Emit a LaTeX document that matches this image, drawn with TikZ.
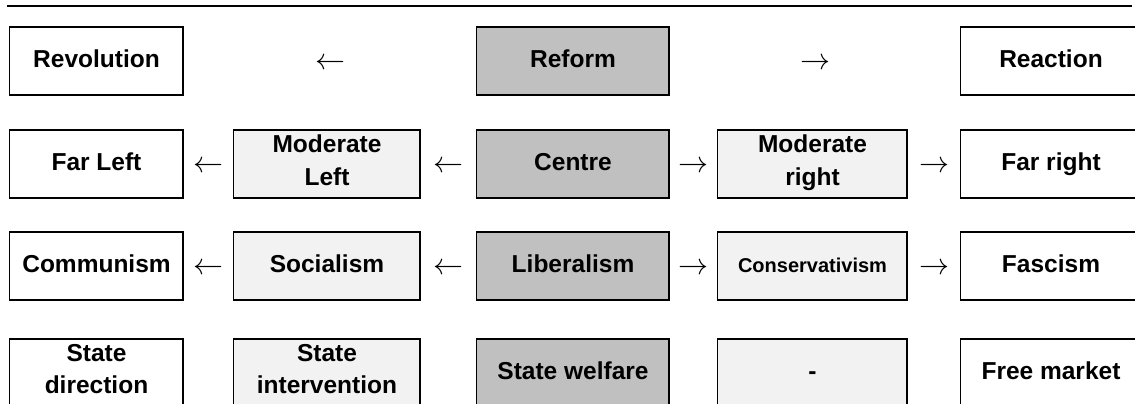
\documentclass[tikz,border=0pt]{standalone}
\usepackage{fontspec}
\setmainfont{Liberation Sans}
\usetikzlibrary{calc}
\definecolor{midgray}{HTML}{C0C0C0}
\definecolor{palegray}{HTML}{F2F2F2}
\newcommand\cellstrut{\rule[-8pt]{0pt}{29pt}}
\tikzset{
  cell/.style={rectangle, inner sep=0pt, minimum height=68pt, align=center,
    font=\fontsize{24.5}{32.5}\selectfont\bfseries, text=black,
    execute at begin node=\cellstrut, execute at end node=\cellstrut},
  whitecell/.style={cell, fill=white},
  lightcell/.style={cell, fill=palegray},
  darkcell/.style={cell, fill=midgray},
  edgeleft/.style={line width=1pt, line cap=rect},
  edgeright/.style={line width=1.5pt, line cap=rect},
  edgehoriz/.style={line width=2pt, line cap=rect},
  arrowglyph/.style={inner sep=0pt, yshift=-2.5pt},
  rule/.style={line width=1.5pt}
}
\newcommand\larr{\scalebox{3.0}{$\leftarrow$}}
\newcommand\rarr{\scalebox{3.0}{$\rightarrow$}}
\begin{document}
\begin{tikzpicture}[x=1pt,y=-1pt]
\useasboundingbox (0,0) rectangle (1135,404);
\clip (0,0) rectangle (1135,404);

\coordinate (rulestart) at (7,6);
\coordinate (ruleend) at (1132,6);
\draw[rule] (rulestart) -- (ruleend);

% row 1
\node[whitecell, minimum width=173pt] (rev) at (96.5,61) {Revolution};
\node[darkcell,  minimum width=192pt] (ref) at (573,61) {Reform};
\node[whitecell, minimum width=180pt] (rea) at (1051,61) {Reaction};

% row 2
\node[whitecell, minimum width=173pt] (fl)  at (96.5,164) {Far Left};
\node[lightcell, minimum width=186pt] (ml)  at (327,164) {Moderate\\Left};
\node[darkcell,  minimum width=192pt] (cen) at (573,164) {Centre};
\node[lightcell, minimum width=189pt] (mr)  at (812.5,164) {Moderate\\right};
\node[whitecell, minimum width=180pt] (fr)  at (1051,164) {Far right};

% row 3
\node[whitecell, minimum width=173pt] (com) at (96.5,266) {Communism};
\node[lightcell, minimum width=186pt] (soc) at (327,266) {Socialism};
\node[darkcell,  minimum width=192pt] (lib) at (573,266) {Liberalism};
\node[lightcell, minimum width=189pt, font=\fontsize{20}{24}\selectfont\bfseries] (con) at (812.5,266) {Conservativism};
\node[whitecell, minimum width=180pt] (fas) at (1051,266) {Fascism};

% row 4
\node[whitecell, minimum width=173pt] (sd)  at (96.5,373) {State\\direction};
\node[lightcell, minimum width=186pt] (si)  at (327,373) {State\\intervention};
\node[darkcell,  minimum width=192pt] (sw)  at (573,373) {State welfare};
\node[lightcell, minimum width=189pt] (nd)  at (812.5,373) {-};
\node[whitecell, minimum width=180pt] (fm)  at (1051,373) {Free market};

% borders
\foreach \n in {rev,ref,rea,fl,ml,cen,mr,fr,com,soc,lib,con,fas,sd,si,sw,nd,fm}{
  \draw[edgeleft]  (\n.north west) -- (\n.south west);
  \draw[edgeright] (\n.north east) -- (\n.south east);
  \draw[edgehoriz] (\n.north west) -- (\n.north east);
  \draw[edgehoriz] (\n.south west) -- (\n.south east);
}

% arrows (glyphs)
\node[arrowglyph] (a1) at ($(rev.east)!0.5!(ref.west)$) {\larr};
\node[arrowglyph] (a2) at ($(ref.east)!0.5!(rea.west)$) {\rarr};
\node[arrowglyph] (a3) at ($(fl.east)!0.5!(ml.west)$) {\larr};
\node[arrowglyph] (a4) at ($(ml.east)!0.5!(cen.west)$) {\larr};
\node[arrowglyph] (a5) at ($(cen.east)!0.5!(mr.west)$) {\rarr};
\node[arrowglyph] (a6) at ($(mr.east)!0.5!(fr.west)$) {\rarr};
\node[arrowglyph] (a7) at ($(com.east)!0.5!(soc.west)$) {\larr};
\node[arrowglyph] (a8) at ($(soc.east)!0.5!(lib.west)$) {\larr};
\node[arrowglyph] (a9) at ($(lib.east)!0.5!(con.west)$) {\rarr};
\node[arrowglyph] (a10) at ($(con.east)!0.5!(fas.west)$) {\rarr};
\end{tikzpicture}
\end{document}
